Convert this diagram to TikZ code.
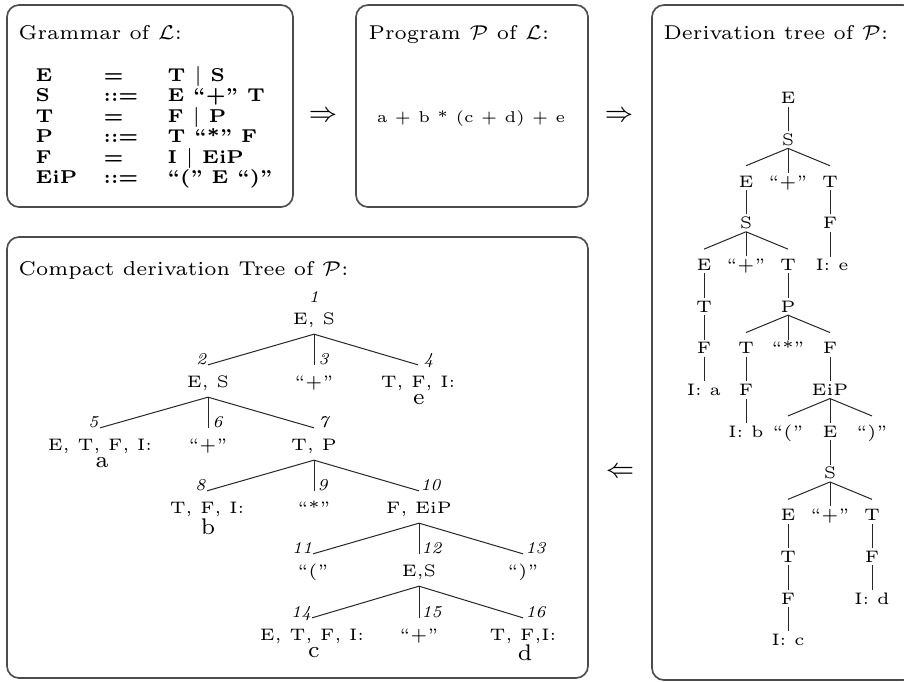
\documentclass[tikz,border=0pt]{standalone}
\usetikzlibrary{calc}
\begin{document}
\begin{tikzpicture}[x=0.3pt,y=-0.3pt,
  box/.style={draw=black!70,line width=0.5pt,rounded corners=3.6pt},
  ttl/.style={anchor=base west,inner sep=0pt,font=\fontsize{6}{7}\selectfont},
  gr/.style={anchor=base west,inner sep=0pt,font=\fontsize{5.6}{6}\selectfont\bfseries},
  arr/.style={inner sep=0pt,font=\fontsize{8}{9}\selectfont},
  dn/.style={inner xsep=0pt,inner ysep=0pt,text height=4.1pt,text depth=0.7pt,font=\fontsize{5}{6}\selectfont},
  cn/.style={inner xsep=0pt,inner ysep=0pt,text height=6.5pt,text depth=2.8pt,font=\fontsize{5}{6}\selectfont},
  lf/.style={inner sep=0pt,font=\fontsize{6.8}{7}\selectfont},
  num/.style={inner sep=0pt,font=\fontsize{5}{6}\selectfont\itshape},
  tl/.style={line width=0.3pt,draw=black!85},
]
\useasboundingbox (0,0) rectangle (904,681);

% boxes
\draw[box] (7,5) rectangle (293,207);
\draw[box] (356,5) rectangle (588,207);
\draw[box] (652,5) rectangle (915,680);
\draw[box] (7,237) rectangle (588,678);

% titles
\node[ttl] (tg) at (18,39) {Grammar of $\mathcal{L}$:};
\node[ttl] (tp) at (368,39) {Program $\mathcal{P}$ of $\mathcal{L}$:};
\node[ttl] (td) at (663,39) {Derivation tree of $\mathcal{P}$:};
\node[ttl] (tc) at (18,275) {Compact derivation Tree of $\mathcal{P}$:};

% arrows
\node[arr] (a1) at (323,116) {$\Rightarrow$};
\node[arr] (a2) at (619,116) {$\Rightarrow$};
\node[arr] (a3) at (620,472) {$\Leftarrow$};

% grammar
\node[gr] (g1a) at (35,81) {E};   \node[gr] (g1b) at (103,81) {=};   \node[gr] (g1c) at (167,81) {T $|$ S};
\node[gr] (g2a) at (35,101) {S};  \node[gr] (g2b) at (103,101) {::=}; \node[gr] (g2c) at (167,101) {E ``+'' T};
\node[gr] (g3a) at (35,122) {T};  \node[gr] (g3b) at (103,122) {=};  \node[gr] (g3c) at (167,122) {F $|$ P};
\node[gr] (g4a) at (35,142) {P};  \node[gr] (g4b) at (103,142) {::=}; \node[gr] (g4c) at (167,142) {T ``*'' F};
\node[gr] (g5a) at (35,163) {F};  \node[gr] (g5b) at (103,163) {=};  \node[gr] (g5c) at (167,163) {I $|$ EiP};
\node[gr] (g6a) at (35,183) {EiP};\node[gr] (g6b) at (103,183) {::=}; \node[gr] (g6c) at (167,183) {``('' E ``)''};

% program
\node[dn,font=\fontsize{4.7}{6}\selectfont] (prog) at (471,117) {a + b * (c + d) + e};

% derivation tree
\node[dn] (d1) at (788,98) {E};
\node[dn] (d2) at (788,139.7) {S};
\node[dn] (d3) at (746,181.4) {E};
\node[dn] (d4) at (788,181.4) {``+''};
\node[dn] (d5) at (830,181.4) {T};
\node[dn] (d6) at (746,223.1) {S};
\node[dn] (d7) at (830,223.1) {F};
\node[dn] (d8) at (704,264.8) {E};
\node[dn] (d9) at (746,264.8) {``+''};
\node[dn] (d10) at (788,264.8) {T};
\node[dn] (d11) at (832,264.8) {I: e};
\node[dn] (d12) at (704,306.5) {T};
\node[dn] (d13) at (788,306.5) {P};
\node[dn] (d14) at (704,348.2) {F};
\node[dn] (d15) at (746,348.2) {T};
\node[dn] (d16) at (788,348.2) {``*''};
\node[dn] (d17) at (830,348.2) {F};
\node[dn] (d18) at (704,389.9) {I: a};
\node[dn] (d19) at (746,389.9) {F};
\node[dn] (d20) at (830,389.9) {EiP};
\node[dn] (d21) at (746,431.6) {I: b};
\node[dn] (d22) at (788,431.6) {``(''};
\node[dn] (d23) at (830,431.6) {E};
\node[dn] (d24) at (872,431.6) {``)''};
\node[dn] (d25) at (830,473.3) {S};
\node[dn] (d26) at (788,515) {E};
\node[dn] (d27) at (830,515) {``+''};
\node[dn] (d28) at (872,515) {T};
\node[dn] (d29) at (788,556.7) {T};
\node[dn] (d30) at (872,556.7) {F};
\node[dn] (d31) at (788,598.4) {F};
\node[dn] (d32) at (872,598.4) {I: d};
\node[dn] (d33) at (788,640.1) {I: c};
\coordinate (d11t) at (830,256.8);

\draw[tl] (d1.south) -- (d2.north);
\draw[tl] (d2.south) -- ($(d3.north)+(0,-7)$);
\draw[tl] (d2.south) -- (d4.north);
\draw[tl] (d2.south) -- ($(d5.north)+(0,-7)$);
\draw[tl] (d3.south) -- (d6.north);
\draw[tl] (d5.south) -- (d7.north);
\draw[tl] (d6.south) -- ($(d8.north)+(0,-7)$);
\draw[tl] (d6.south) -- (d9.north);
\draw[tl] (d6.south) -- ($(d10.north)+(0,-7)$);
\draw[tl] (d7.south) -- (d11t);
\draw[tl] (d8.south) -- (d12.north);
\draw[tl] (d10.south) -- (d13.north);
\draw[tl] (d12.south) -- (d14.north);
\draw[tl] (d13.south) -- ($(d15.north)+(0,-7)$);
\draw[tl] (d13.south) -- (d16.north);
\draw[tl] (d13.south) -- ($(d17.north)+(0,-7)$);
\draw[tl] (d14.south) -- (d18.north);
\draw[tl] (d15.south) -- (d19.north);
\draw[tl] (d17.south) -- (d20.north);
\draw[tl] (d19.south) -- (d21.north);
\draw[tl] (d20.south) -- ($(d22.north)+(0,-7)$);
\draw[tl] (d20.south) -- (d23.north);
\draw[tl] (d20.south) -- ($(d24.north)+(0,-7)$);
\draw[tl] (d23.south) -- (d25.north);
\draw[tl] (d25.south) -- ($(d26.north)+(0,-7)$);
\draw[tl] (d25.south) -- (d27.north);
\draw[tl] (d25.south) -- ($(d28.north)+(0,-7)$);
\draw[tl] (d26.south) -- (d29.north);
\draw[tl] (d28.south) -- (d30.north);
\draw[tl] (d29.south) -- (d31.north);
\draw[tl] (d30.south) -- (d32.north);
\draw[tl] (d31.south) -- (d33.north);

% compact tree
\node[cn] (c1) at (314,318) {E, S};
\node[cn] (c2) at (208,381) {E, S};
\node[cn] (c3) at (314,381) {``+''};
\node[cn] (c4) at (418,381) {T, F, I:};
\node[lf] (c4l) at (419,400) {e};
\node[cn] (c5) at (100,444) {E, T, F, I:};
\node[lf] (c5l) at (102,463) {a};
\node[cn] (c6) at (208,444) {``+''};
\node[cn] (c7) at (314,444) {T, P};
\node[cn] (c8) at (207,507) {T, F, I:};
\node[lf] (c8l) at (208,527) {b};
\node[cn] (c9) at (314,507) {``*''};
\node[cn] (c10) at (419,507) {F, EiP};
\node[cn] (c11) at (313,570) {``(''};
\node[cn] (c12) at (419,570) {E,S};
\node[cn] (c13) at (523,570) {``)''};
\node[cn] (c14) at (312,634) {E, T, F, I:};
\node[lf] (c14l) at (314,653) {c};
\node[cn] (c15) at (419,634) {``+''};
\node[cn] (c16) at (523,634) {T, F,I:};
\node[lf] (c16l) at (525,653) {d};

\draw[tl] (c1.south) -- (c2.north);
\draw[tl] (c1.south) -- (c3.north);
\draw[tl] (c1.south) -- (c4.north);
\draw[tl] (c2.south) -- (c5.north);
\draw[tl] (c2.south) -- (c6.north);
\draw[tl] (c2.south) -- (c7.north);
\draw[tl] (c7.south) -- (c8.north);
\draw[tl] (c7.south) -- (c9.north);
\draw[tl] (c7.south) -- (c10.north);
\draw[tl] (c10.south) -- (c11.north);
\draw[tl] (c10.south) -- (c12.north);
\draw[tl] (c10.south) -- (c13.north);
\draw[tl] (c12.south) -- (c14.north);
\draw[tl] (c12.south) -- (c15.north);
\draw[tl] (c12.south) -- (c16.north);

% numbers
\node[num] (n1) at (314,297) {1};
\node[num,anchor=base east] (n2) at ($(c2.north)+(-1,0)$) {2};
\node[num,anchor=base west] (n3) at ($(c3.north)+(4,0)$) {3};
\node[num,anchor=base west] (n4) at ($(c4.north)+(5,0)$) {4};
\node[num,anchor=base east] (n5) at ($(c5.north)+(-1,0)$) {5};
\node[num,anchor=base west] (n6) at ($(c6.north)+(4,0)$) {6};
\node[num,anchor=base west] (n7) at ($(c7.north)+(4,0)$) {7};
\node[num,anchor=base east] (n8) at ($(c8.north)+(-1,0)$) {8};
\node[num,anchor=base west] (n9) at ($(c9.north)+(3,0)$) {9};
\node[num,anchor=base west] (n10) at ($(c10.north)+(1,0)$) {10};
\node[num,anchor=base east] (n11) at ($(c11.north)+(0,0)$) {11};
\node[num,anchor=base west] (n12) at ($(c12.north)+(2,0)$) {12};
\node[num,anchor=base west] (n13) at ($(c13.north)+(2,0)$) {13};
\node[num,anchor=base east] (n14) at ($(c14.north)+(0,0)$) {14};
\node[num,anchor=base west] (n15) at ($(c15.north)+(2,0)$) {15};
\node[num,anchor=base west] (n16) at ($(c16.north)+(2,0)$) {16};
\end{tikzpicture}
\end{document}
